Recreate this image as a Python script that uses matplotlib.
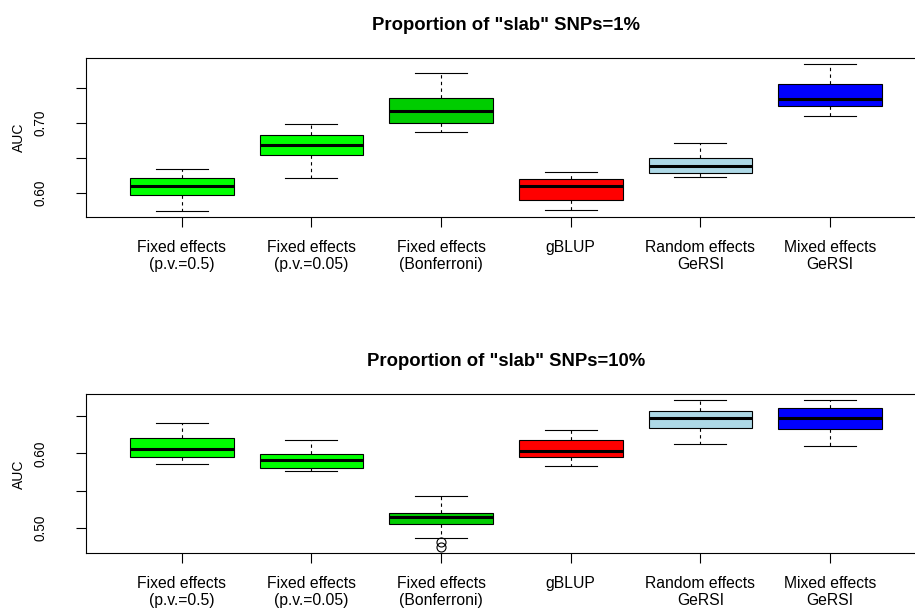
import numpy as np
import matplotlib
matplotlib.use("Agg")
from matplotlib import pyplot as plt

plt.rcParams['font.family'] = ['Liberation Sans', 'DejaVu Sans']

metodos = ['Fixed effects\n(p.v.=0.5)', 'Fixed effects\n(p.v.=0.05)',
           'Fixed effects\n(Bonferroni)', 'gBLUP',
           'Random effects\nGeRSI', 'Mixed effects\nGeRSI']
colores = ['#00FF00', '#00FF00', '#00CD00', '#FF0000', '#ADD8E6', '#0000FF']

# slab = 1%
sup_1 = [0.6345, 0.6996, 0.7718, 0.6292, 0.6718, 0.7858]
q3_1 = [0.6216, 0.6833, 0.7369, 0.6201, 0.6503, 0.7566]
med_1 = [0.6100, 0.6694, 0.7178, 0.6090, 0.6388, 0.7345]
q1_1 = [0.5971, 0.6536, 0.7006, 0.5894, 0.6282, 0.7244]
inf_1 = [0.5736, 0.6216, 0.6880, 0.5756, 0.6220, 0.7110]
atip_1 = [[], [], [], [], [], []]

# slab = 10%
sup_10 = [0.6410, 0.6177, 0.5422, 0.6315, 0.6716, 0.6716]
q3_10 = [0.6200, 0.5997, 0.5202, 0.6177, 0.6567, 0.6604]
med_10 = [0.6060, 0.5916, 0.5143, 0.6032, 0.6473, 0.6469]
q1_10 = [0.5957, 0.5799, 0.5054, 0.5951, 0.6334, 0.6325]
inf_10 = [0.5857, 0.5759, 0.4865, 0.5830, 0.6119, 0.6096]
atip_10 = [[], [], [0.4815, 0.4739], [], [], []]


def panel(ax, titulo, sup, q3, med, q1, inf, atip, ticks, etiquetas):
    stats = []
    for i in range(len(metodos)):
        stats.append({'med': med[i], 'q1': q1[i], 'q3': q3[i],
                      'whislo': inf[i], 'whishi': sup[i], 'fliers': atip[i]})
    pos = np.arange(1, len(metodos) + 1)
    bp = ax.bxp(stats, positions=pos, widths=0.8, capwidths=0.4,
                patch_artist=True, showfliers=True,
                boxprops=dict(edgecolor='black', linewidth=0.8),
                medianprops=dict(color='black', linewidth=2.2, solid_capstyle='butt'),
                whiskerprops=dict(color='black', linewidth=0.8, linestyle=(0, (3, 3))),
                capprops=dict(color='black', linewidth=0.8),
                flierprops=dict(marker='o', markerfacecolor='none',
                                markeredgecolor='black', markersize=6.5,
                                markeredgewidth=0.8))
    for caja, c in zip(bp['boxes'], colores):
        caja.set_facecolor(c)

    # rango del eje con 4% extra, como en R
    todos = inf + sup + [v for a in atip for v in a]
    lo, hi = min(todos), max(todos)
    margen = (hi - lo) * 0.04
    ax.set_ylim(lo - margen, hi + margen)
    ax.set_xlim(0.26, 6.74)

    ax.set_xticks(pos)
    ax.set_xticklabels(metodos, fontsize=11.3, linespacing=1.15)
    ax.set_yticks(ticks)
    ax.set_yticklabels(etiquetas, fontsize=9.8, rotation=90, va='center', ha='right')
    ax.tick_params(axis='x', length=7, width=0.8, pad=9.5)
    ax.tick_params(axis='y', length=7, width=0.8, pad=20.5)
    for s in ax.spines.values():
        s.set_linewidth(0.8)
    ax.set_title(titulo, fontsize=13.3, fontweight='bold', pad=20)


fig = plt.figure(figsize=(9.15, 6.14), dpi=100)
ax1 = fig.add_axes([0.0937, 0.6466, 0.9184, 0.2594])
ax2 = fig.add_axes([0.0937, 0.0989, 0.9184, 0.2594])

panel(ax1, 'Proportion of "slab" SNPs=1%', sup_1, q3_1, med_1, q1_1, inf_1, atip_1,
      [0.60, 0.65, 0.70, 0.75], ['0.60', '', '0.70', ''])
panel(ax2, 'Proportion of "slab" SNPs=10%', sup_10, q3_10, med_10, q1_10, inf_10, atip_10,
      [0.50, 0.55, 0.60, 0.65], ['0.50', '', '0.60', ''])

fig.text(19 / 915, 1 - 137 / 614, 'AUC', rotation=90, ha='center', va='center', fontsize=10)
fig.text(19 / 915, 1 - 474 / 614, 'AUC', rotation=90, ha='center', va='center', fontsize=10)

fig.savefig('out.png', dpi=100)
